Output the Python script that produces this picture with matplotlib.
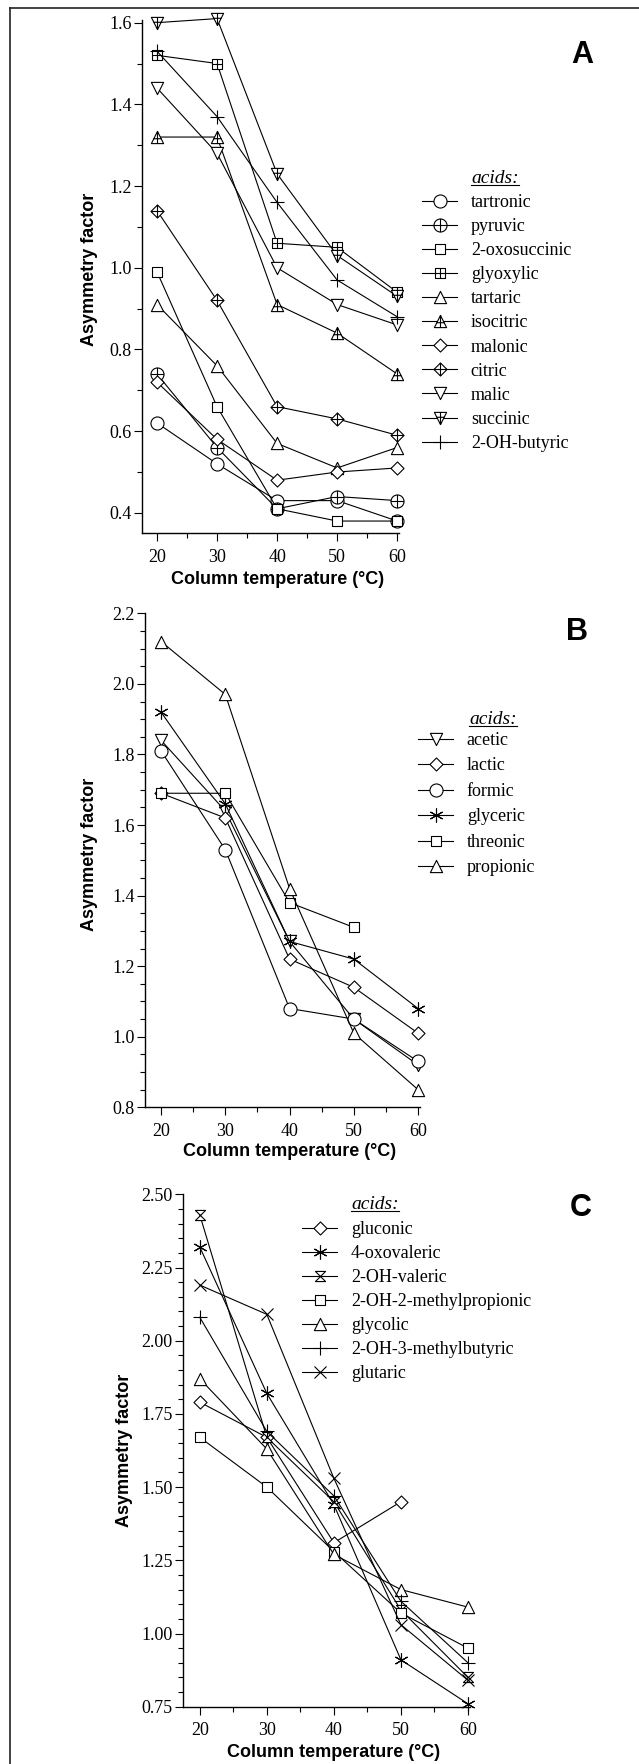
import numpy as np
import matplotlib
matplotlib.use('Agg')
import matplotlib.pyplot as plt
from matplotlib.path import Path
from matplotlib.lines import Line2D
from matplotlib.ticker import MultipleLocator, FormatStrFormatter

W, H = 639, 1764
nan = np.nan

temps = [20, 30, 40, 50, 60]

# panel A
tartronic = [0.62, 0.52, 0.43, 0.43, 0.38]
pyruvic = [0.74, 0.56, 0.41, 0.44, 0.43]
oxosuccinic = [0.99, 0.66, 0.41, 0.38, 0.38]
glyoxylic = [1.52, 1.50, 1.06, 1.05, 0.94]
tartaric = [0.91, 0.76, 0.57, 0.51, 0.56]
isocitric = [1.32, 1.32, 0.91, 0.84, 0.74]
malonic = [0.72, 0.58, 0.48, 0.50, 0.51]
citric = [1.14, 0.92, 0.66, 0.63, 0.59]
malic = [1.44, 1.28, 1.00, 0.91, 0.86]
succinic = [1.60, 1.61, 1.23, 1.03, 0.93]
oh_butyric = [1.53, 1.37, 1.16, 0.97, 0.88]

# panel B
acetic = [1.84, 1.64, 1.27, 1.05, 0.92]
lactic = [1.69, 1.62, 1.22, 1.14, 1.01]
formic = [1.81, 1.53, 1.08, 1.05, 0.93]
glyceric = [1.92, 1.66, 1.27, 1.22, 1.08]
threonic = [1.69, 1.69, 1.38, 1.31, nan]
propionic = [2.12, 1.97, 1.42, 1.01, 0.85]

# panel C
gluconic = [1.79, 1.67, 1.31, 1.45, nan]
oxovaleric = [2.32, 1.82, 1.44, 0.91, 0.76]
oh_valeric = [2.43, 1.67, 1.45, 1.08, 0.85]
methylpropionic = [1.67, 1.50, 1.28, 1.07, 0.95]
glycolic = [1.87, 1.63, 1.27, 1.15, 1.09]
methylbutyric = [2.08, 1.69, 1.47, 1.11, 0.90]
glutaric = [2.19, 2.09, 1.53, 1.03, 0.84]


def px(x, y):
    # pixel position (from top-left) -> figure fraction
    return x / W, 1 - y / H


# marker shapes
circle = Path.unit_circle()
square = Path([(-1, -1), (1, -1), (1, 1), (-1, 1), (-1, -1)], closed=True)
diamond = Path([(0, 1), (1, 0), (0, -1), (-1, 0), (0, 1)], closed=True)
tri_up = Path([(0, 1), (-1, -1), (1, -1), (0, 1)], closed=True)
tri_down = Path([(0, -1), (-1, 1), (1, 1), (0, -1)], closed=True)
hourglass = Path([(-1, 1), (1, 1), (-1, -1), (1, -1), (-1, 1)], closed=True)
asterisk = (6, 2, 0)


def crossed(shape, hy=0.0, hx=1.0):
    return Path.make_compound_path(shape, Path([(-hx, hy), (hx, hy)]), Path([(0, -1), (0, 1)]))


def draw_panel(fig, rect, series, xlim, ylim, ymajor, yminor, yfmt, legend_xy, spacing, title_xy, letter,
               letter_xy, ylabel_x, ylabel_y, xlabel_dy):
    ax = fig.add_axes(rect)
    for name, vals, marker, ms in series:
        ax.plot(temps, vals, color='black', lw=0.8, marker=marker, ms=ms, mfc='white', mec='black',
                mew=0.8, clip_on=False, label=name)
    ax.set_xlim(*xlim)
    ax.set_ylim(*ylim)
    ax.spines[['top', 'right']].set_visible(False)
    ax.spines[['left', 'bottom']].set_linewidth(1.0)
    ax.xaxis.set_major_locator(MultipleLocator(10))
    ax.xaxis.set_minor_locator(MultipleLocator(5))
    ax.yaxis.set_major_locator(MultipleLocator(ymajor))
    ax.yaxis.set_minor_locator(MultipleLocator(yminor))
    ax.yaxis.set_major_formatter(FormatStrFormatter(yfmt))
    ax.tick_params(which='major', direction='out', length=5.5, width=0.8, labelsize=13, pad=2)
    ax.tick_params(which='minor', direction='out', length=3.5, width=0.8)
    ax.tick_params(axis='x', which='major', length=6, pad=5)

    ax.set_ylabel('Asymmetry factor', family='Liberation Sans', fontweight='bold', fontsize=13)
    ax.yaxis.set_label_coords(ylabel_x, ylabel_y)
    ax.set_xlabel('Column temperature (°C)', family='Liberation Sans', fontweight='bold', fontsize=13)
    ax.xaxis.set_label_coords((40 - xlim[0]) / (xlim[1] - xlim[0]), xlabel_dy)

    ax.legend(loc='upper left', bbox_to_anchor=px(*legend_xy), bbox_transform=fig.transFigure,
              frameon=False, prop={'family': 'Liberation Serif', 'size': 13}, handlelength=1.95,
              handletextpad=0.75, labelspacing=spacing, borderpad=0, borderaxespad=0, numpoints=1)

    t = fig.text(*px(*title_xy), 'acids:', family='Liberation Serif', style='italic', fontsize=14,
                 ha='left', va='baseline')
    r = fig.canvas.get_renderer()
    bb = t.get_window_extent(r)
    uy = title_xy[1] + 2
    fig.add_artist(Line2D([bb.x0 / W, bb.x1 / W], [1 - uy / H, 1 - uy / H], transform=fig.transFigure,
                          color='black', lw=0.8))

    fig.text(*px(*letter_xy), letter, family=['Liberation Sans Narrow', 'Liberation Sans'], fontweight='bold',
             fontsize=22, ha='center', va='center')
    return ax


def main():
    plt.rcParams['font.family'] = ['Liberation Serif', 'DejaVu Serif']
    fig = plt.figure(figsize=(W / 100, H / 100), dpi=100)

    # outer frame (top and left edges)
    fig.add_artist(Line2D([10 / W, 10 / W], [0, 1 - 7.5 / H], transform=fig.transFigure, color='#222222', lw=1.2))
    fig.add_artist(Line2D([10 / W, 1], [1 - 7.5 / H, 1 - 7.5 / H], transform=fig.transFigure, color='#222222', lw=1.2))

    series_a = [
        ('tartronic', tartronic, circle, 9.4),
        ('pyruvic', pyruvic, crossed(circle), 9.4),
        ('2-oxosuccinic', oxosuccinic, square, 7.3),
        ('glyoxylic', glyoxylic, crossed(square), 7.3),
        ('tartaric', tartaric, tri_up, 8.8),
        ('isocitric', isocitric, crossed(tri_up, -0.2, 0.6), 8.8),
        ('malonic', malonic, diamond, 9.4),
        ('citric', citric, crossed(diamond), 9.4),
        ('malic', malic, tri_down, 8.8),
        ('succinic', succinic, crossed(tri_down, 0.2, 0.6), 8.8),
        ('2-OH-butyric', oh_butyric, '+', 10),
    ]
    x0, x1 = 142, 399
    y0, y1 = 19.8, 533.3
    draw_panel(fig, [x0 / W, 1 - y1 / H, (x1 - x0) / W, (y1 - y0) / H], series_a,
               (17.5, 60.3), (0.35, 1.607), 0.2, 0.1, '%.1f',
               legend_xy=(422, 194), spacing=0.393, title_xy=(471, 183), letter='A', letter_xy=(582, 55),
               ylabel_x=-0.171, ylabel_y=0.513, xlabel_dy=-0.074)

    series_b = [
        ('acetic', acetic, tri_down, 8.8),
        ('lactic', lactic, diamond, 9.4),
        ('formic', formic, circle, 9.4),
        ('glyceric', glyceric, asterisk, 10),
        ('threonic', threonic, square, 7.3),
        ('propionic', propionic, tri_up, 8.8),
    ]
    x0, x1 = 145, 420
    y0, y1 = 613.3, 1107.3
    draw_panel(fig, [x0 / W, 1 - y1 / H, (x1 - x0) / W, (y1 - y0) / H], series_b,
               (17.5, 60.3), (0.8, 2.2), 0.2, 0.05, '%.1f',
               legend_xy=(418, 732), spacing=0.47, title_xy=(469, 724), letter='B', letter_xy=(577, 632),
               ylabel_x=-0.171, ylabel_y=0.511, xlabel_dy=-0.073)

    series_c = [
        ('gluconic', gluconic, diamond, 9.4),
        ('4-oxovaleric', oxovaleric, asterisk, 10),
        ('2-OH-valeric', oh_valeric, hourglass, 7.3),
        ('2-OH-2-methylpropionic', methylpropionic, square, 7.3),
        ('glycolic', glycolic, tri_up, 8.8),
        ('2-OH-3-methylbutyric', methylbutyric, '+', 10),
        ('glutaric', glutaric, 'x', 8),
    ]
    x0, x1 = 183, 470
    y0, y1 = 1194.3, 1706.7
    draw_panel(fig, [x0 / W, 1 - y1 / H, (x1 - x0) / W, (y1 - y0) / H], series_c,
               (17.5, 60.3), (0.75, 2.5), 0.25, 0.05, '%.2f',
               legend_xy=(302, 1221), spacing=0.388, title_xy=(351, 1209), letter='C', letter_xy=(581, 1208),
               ylabel_x=-0.174, ylabel_y=0.5, xlabel_dy=-0.072)

    fig.savefig('out.png', dpi=100)


if __name__ == '__main__':
    main()
